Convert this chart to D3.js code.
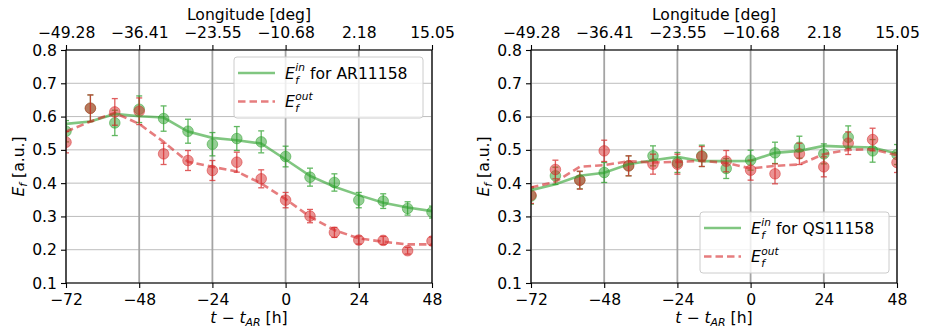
<!DOCTYPE html>
<html>
<head>
<meta charset="utf-8">
<script src="https://cdn.jsdelivr.net/npm/d3@7"></script>
<style>
  html, body { margin: 0; padding: 0; background: #fff; }
  svg { display: block; font-family: "DejaVu Sans", sans-serif; }
</style>
</head>
<body>
<svg id="chart" width="927" height="333"></svg>
<script>
// Hours relative to the active-region reference time
const hours = [-72, -64, -56, -48, -40, -32, -24, -16, -8, 0, 8, 16, 24, 32, 40, 48];
const hourTicks = [-72, -48, -24, 0, 24, 48];
const lonTickLabels = ["\u221249.28", "\u221236.41", "\u221223.55", "\u221210.68", "2.18", "15.05"];
const yTicks = [0.1, 0.2, 0.3, 0.4, 0.5, 0.6, 0.7, 0.8];

// AR11158: inside-region measurements, errors and smoothed trend
const arIn     = [0.556, 0.625, 0.581, 0.622, 0.594, 0.556, 0.517, 0.534, 0.524, 0.480, 0.418, 0.402, 0.349, 0.346, 0.324, 0.313];
const arInErr  = [0.032, 0.040, 0.038, 0.040, 0.038, 0.036, 0.035, 0.036, 0.033, 0.031, 0.027, 0.026, 0.023, 0.022, 0.020, 0.018];
const arInFit  = [0.578, 0.585, 0.608, 0.601, 0.597, 0.555, 0.536, 0.529, 0.519, 0.471, 0.422, 0.389, 0.364, 0.341, 0.327, 0.316];
// AR11158: outside-region measurements, errors and smoothed trend
const arOut    = [0.523, 0.625, 0.614, 0.616, 0.488, 0.468, 0.438, 0.463, 0.413, 0.349, 0.301, 0.252, 0.229, 0.228, 0.197, 0.226];
const arOutErr = [0.032, 0.040, 0.040, 0.040, 0.032, 0.030, 0.030, 0.030, 0.027, 0.023, 0.020, 0.015, 0.012, 0.012, 0.010, 0.012];
const arOutFit = [0.555, 0.585, 0.611, 0.578, 0.524, 0.464, 0.449, 0.435, 0.399, 0.352, 0.299, 0.259, 0.234, 0.224, 0.216, 0.216];

// QS11158: inside-region measurements, errors and smoothed trend
const qsIn     = [0.361, 0.422, 0.409, 0.432, 0.452, 0.482, 0.462, 0.482, 0.444, 0.469, 0.491, 0.508, 0.488, 0.538, 0.497, 0.486];
const qsInErr  = [0.024, 0.026, 0.026, 0.030, 0.030, 0.030, 0.030, 0.032, 0.030, 0.030, 0.032, 0.033, 0.030, 0.034, 0.034, 0.030];
const qsInFit  = [0.379, 0.397, 0.422, 0.431, 0.457, 0.469, 0.479, 0.466, 0.466, 0.467, 0.491, 0.497, 0.512, 0.509, 0.507, 0.489];
// QS11158: outside-region measurements, errors and smoothed trend
const qsOut    = [0.364, 0.441, 0.409, 0.497, 0.452, 0.457, 0.457, 0.480, 0.466, 0.439, 0.428, 0.488, 0.449, 0.520, 0.531, 0.462];
const qsOutErr = [0.025, 0.028, 0.027, 0.032, 0.030, 0.030, 0.030, 0.030, 0.032, 0.030, 0.030, 0.032, 0.030, 0.034, 0.034, 0.030];
const qsOutFit = [0.387, 0.404, 0.449, 0.454, 0.466, 0.462, 0.464, 0.467, 0.461, 0.444, 0.452, 0.456, 0.487, 0.500, 0.502, 0.484];

const GREEN = "#2ca02c", RED = "#d62728";
const FS = 15.6;
const SCRIPT_FS = FS * 0.68;

const svg = d3.select("#chart");

// width of a string at a given size and style
function textWidth(str, size, italic) {
  const t = svg.append("text").attr("font-size", size).attr("font-style", italic ? "italic" : "normal")
    .style("white-space", "pre").text(str);
  const w = t.node().getComputedTextLength();
  t.remove();
  return w;
}

function panel(idx, left, right, inVals, inErr, inFit, outVals, outErr, outFit, region, legendPos) {
  const top = 50, bottom = 283;
  const x = d3.scaleLinear().domain([-72, 48]).range([left, right]);
  const y = d3.scaleLinear().domain([0.1, 0.8]).range([bottom, top]);
  const g = svg.append("g");

  const clipId = "clip" + idx;
  svg.append("defs").append("clipPath").attr("id", clipId)
    .append("rect").attr("x", left).attr("y", top).attr("width", right - left).attr("height", bottom - top);

  // grid
  g.append("g").selectAll("line").data(yTicks).join("line")
    .attr("x1", left).attr("x2", right).attr("y1", d => y(d)).attr("y2", d => y(d))
    .attr("stroke", "#bdbdbd").attr("stroke-width", 1);
  g.append("g").selectAll("line").data(hourTicks).join("line")
    .attr("x1", d => x(d)).attr("x2", d => x(d)).attr("y1", top).attr("y2", bottom)
    .attr("stroke", "#a4a4a4").attr("stroke-width", 1.8);

  const plot = g.append("g").attr("clip-path", `url(#${clipId})`);

  function series(vals, errs, color) {
    const eb = plot.append("g").attr("stroke", color).attr("stroke-width", 1.3).attr("opacity", 0.75);
    hours.forEach((h, i) => {
      const cx = x(h), y0 = y(vals[i] - errs[i]), y1 = y(vals[i] + errs[i]);
      eb.append("line").attr("x1", cx).attr("x2", cx).attr("y1", y0).attr("y2", y1);
      eb.append("line").attr("x1", cx - 3).attr("x2", cx + 3).attr("y1", y0).attr("y2", y0);
      eb.append("line").attr("x1", cx - 3).attr("x2", cx + 3).attr("y1", y1).attr("y2", y1);
    });
    plot.append("g").selectAll("circle").data(vals).join("circle")
      .attr("cx", (d, i) => x(hours[i])).attr("cy", d => y(d)).attr("r", 5.3)
      .attr("fill", color).attr("fill-opacity", 0.5)
      .attr("stroke", color).attr("stroke-opacity", 0.5).attr("stroke-width", 1);
  }
  series(inVals, inErr, GREEN);
  series(outVals, outErr, RED);

  const line = d3.line().x((d, i) => x(hours[i])).y(d => y(d));
  plot.append("path").datum(inFit).attr("d", line).attr("fill", "none")
    .attr("stroke", GREEN).attr("stroke-width", 2.6).attr("stroke-opacity", 0.6);
  plot.append("path").datum(outFit).attr("d", line).attr("fill", "none")
    .attr("stroke", RED).attr("stroke-width", 2.6).attr("stroke-opacity", 0.6)
    .attr("stroke-dasharray", "7.5,4");

  // axes
  const ax = d3.axisBottom(x).tickValues(hourTicks).tickSize(5).tickPadding(6)
    .tickFormat(d => d < 0 ? "\u2212" + Math.abs(d) : String(d));
  const gb = g.append("g").attr("transform", `translate(0,${bottom})`).call(ax);
  const at = d3.axisTop(x).tickValues(hourTicks).tickSize(5).tickPadding(7.5)
    .tickFormat((d, i) => lonTickLabels[i]);
  const gt = g.append("g").attr("transform", `translate(0,${top})`).call(at);
  const ay = d3.axisLeft(y).tickValues(yTicks).tickSize(5).tickPadding(4).tickFormat(d3.format(".1f"));
  const gl = g.append("g").attr("transform", `translate(${left},0)`).call(ay);
  [gb, gt, gl].forEach(a => {
    a.selectAll("text").attr("font-size", FS).attr("font-family", "DejaVu Sans").attr("fill", "#000");
    a.selectAll("line").attr("stroke", "#000").attr("stroke-width", 1.1);
    a.select(".domain").remove();
  });
  g.append("rect").attr("x", left).attr("y", top).attr("width", right - left).attr("height", bottom - top)
    .attr("fill", "none").attr("stroke", "#000").attr("stroke-width", 1.1);

  // axis titles
  const cx = (left + right) / 2;
  g.append("text").attr("x", cx).attr("y", 20).attr("text-anchor", "middle")
    .attr("font-size", FS).text("Longitude [deg]");

  const xl = g.append("text").attr("x", cx).attr("y", 323).attr("text-anchor", "middle").attr("font-size", FS);
  xl.append("tspan").attr("font-style", "italic").text("t");
  xl.append("tspan").text(" \u2212 ");
  xl.append("tspan").attr("font-style", "italic").text("t");
  xl.append("tspan").attr("font-style", "italic").attr("font-size", FS * 0.7).attr("dy", 3).text("AR");
  xl.append("tspan").attr("dy", -3).text(" [h]");

  const yl = g.append("text").attr("transform", `translate(${left - 42},${(top + bottom) / 2}) rotate(-90)`)
    .attr("text-anchor", "middle").attr("font-size", FS);
  yl.append("tspan").attr("font-style", "italic").text("E");
  yl.append("tspan").attr("font-style", "italic").attr("font-size", FS * 0.7).attr("dy", 3).text("f");
  yl.append("tspan").attr("dy", -3).text(" [a.u.]");

  // legend
  const lg = g.append("g").attr("transform", `translate(${legendPos[0]},${legendPos[1]})`);
  lg.append("rect").attr("x", 0).attr("y", 0).attr("width", 189).attr("height", 61).attr("rx", 3)
    .attr("fill", "#fff").attr("fill-opacity", 0.8).attr("stroke", "#cccccc").attr("stroke-width", 1);
  const entries = [
    { sup: "in", rest: " for " + region, color: GREEN, dash: null, yy: 16 },
    { sup: "out", rest: "", color: RED, dash: "7.5,4", yy: 44.5 }
  ];
  const ew = textWidth("E", FS, true);
  entries.forEach(e => {
    lg.append("line").attr("x1", 4).attr("x2", 41).attr("y1", e.yy).attr("y2", e.yy)
      .attr("stroke", e.color).attr("stroke-width", 2.6).attr("stroke-opacity", 0.6)
      .attr("stroke-dasharray", e.dash);
    const tx = 51, base = e.yy + 5.5;
    const sw = textWidth(e.sup, SCRIPT_FS, true);
    // E with stacked superscript / subscript, then the rest of the label
    const t = lg.append("text").attr("x", tx).attr("y", base).attr("font-size", FS).style("white-space", "pre");
    t.append("tspan").attr("font-style", "italic").text("E");
    t.append("tspan").attr("font-style", "italic").attr("font-size", SCRIPT_FS)
      .attr("x", tx + ew + 0.5).attr("y", base - 7.5).text(e.sup);
    t.append("tspan").attr("font-style", "italic").attr("font-size", SCRIPT_FS)
      .attr("x", tx + ew + 0.5).attr("y", base + 5).text("f");
    if (e.rest) {
      t.append("tspan").attr("x", tx + ew + 0.5 + sw).attr("y", base).text(e.rest);
    }
  });
}

panel(0, 66, 432, arIn, arInErr, arInFit, arOut, arOutErr, arOutFit, "AR11158", [234, 57]);
panel(1, 531, 897, qsIn, qsInErr, qsInFit, qsOut, qsOutErr, qsOutFit, "QS11158", [700, 212]);
</script>
</body>
</html>
